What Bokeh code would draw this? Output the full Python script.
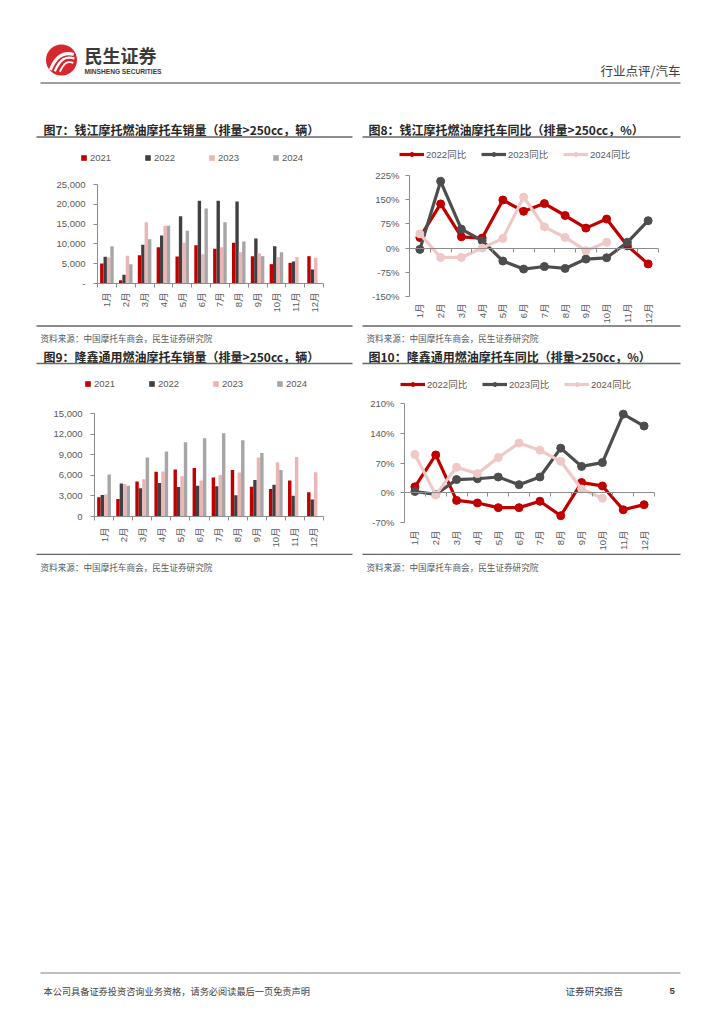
from math import pi
from bokeh.plotting import figure
from bokeh.layouts import column, row
from bokeh.models import (Range1d, FixedTicker, Legend, LegendItem, LinearAxis,
                          NumeralTickFormatter, PrintfTickFormatter, ColumnDataSource)
from bokeh.embed import file_html
from bokeh.resources import INLINE
from bokeh.core.properties import value
from bokeh.transform import dodge

# ---------------- data ----------------
months = [1, 2, 3, 4, 5, 6, 7, 8, 9, 10, 11, 12]
month_labels = ["1月", "2月", "3月", "4月", "5月", "6月", "7月", "8月", "9月", "10月", "11月", "12月"]

bar_years = ["2021", "2022", "2023", "2024"]
yoy_names = ["2022同比", "2023同比", "2024同比"]

# 钱江摩托 燃油摩托车销量（排量>250cc，辆）
qj_2021 = [5050, 840, 7150, 9170, 6820, 9680, 8750, 10270, 6900, 4880, 5220, 6900]
qj_2022 = [6730, 2190, 9760, 12120, 17000, 20880, 20880, 20700, 11360, 9430, 5560, 3540]
qj_2023 = [6570, 6990, 15490, 14560, 10270, 7410, 9170, 7910, 7660, 6650, 6650, 6480]
qj_2024 = [9430, 4880, 11200, 14560, 13300, 18940, 15490, 10600, 6900, 7910]

# 钱江摩托 同比（%）
qj_yoy_2022 = [33, 137, 35, 31, 149, 114, 138, 101, 62, 90, 7, -49]
qj_yoy_2023 = [-4, 207, 59, 23, -40, -65, -57, -63, -34, -30, 18, 85]
qj_yoy_2024 = [44, -29, -29, 0, 30, 158, 66, 33, -8, 18]

# 隆鑫通用 燃油摩托车销量（排量>250cc，辆）
lx_2021 = [2790, 2540, 5080, 6500, 6840, 7080, 5670, 6790, 4350, 4010, 5230, 3520]
lx_2022 = [3130, 4790, 4100, 4890, 4300, 4490, 4400, 3080, 5320, 4640, 3030, 2490]
lx_2023 = [3220, 4740, 5420, 6550, 5860, 5230, 6060, 6400, 8600, 7910, 8650, 6450]
lx_2024 = [6110, 4490, 8600, 9480, 10800, 11380, 12120, 11090, 9230, 6790]

# 隆鑫通用 同比（%）
lx_yoy_2022 = [14, 89, -18, -24, -35, -35, -20, -54, 24, 16, -40, -28]
lx_yoy_2023 = [3, -4, 31, 33, 37, 19, 37, 105, 62, 71, 185, 157]
lx_yoy_2024 = [90, -5, 60, 45, 83, 117, 100, 74, 9, -13]

qj_bar_ticks = [0, 5000, 10000, 15000, 20000, 25000]
lx_bar_ticks = [0, 3000, 6000, 9000, 12000, 15000]
qj_yoy_ticks = [-150, -75, 0, 75, 150, 225]
lx_yoy_ticks = [-70, 0, 70, 140, 210]

# ---------------- style ----------------
CJK = "Noto Sans CJK SC"
NUMF = "Liberation Sans, Noto Sans CJK SC"
BAR_COLORS = ["#C00000", "#404040", "#EBB5B5", "#A6A6A6"]
LINE_COLORS = ["#C00000", "#4D4D4D", "#EFC8C8"]
AXIS_C = "#8C8C8C"
LABEL_C = "#595959"
PAGE_W = 716
BOUNDS = [m - 0.5 for m in months] + [12.5]


def lin_range(lo_px, hi_px, px_a, val_a, px_b, val_b):
    """Data range covering pixels lo_px..hi_px given two reference (pixel, value) pairs."""
    f = lambda px: val_a + (px - px_a) * (val_b - val_a) / (px_b - px_a)
    return f(lo_px), f(hi_px)


def base_style(p):
    p.outline_line_color = None
    p.grid.visible = False
    p.background_fill_color = "white"
    p.border_fill_color = "white"


def make_fig(box, xref, yref):
    fx0, fy0, fx1, fy1 = box
    xs, xe = lin_range(fx0, fx1, xref[0], 0.5, xref[1], 12.5)
    yb, yt = lin_range(fy1, fy0, yref[0], yref[1], yref[2], yref[3])
    p = figure(width=fx1 - fx0, height=fy1 - fy0, x_range=Range1d(xs, xe),
               y_range=Range1d(yb, yt), min_border=0,
               output_backend="svg", toolbar_location=None)
    base_style(p)
    return p


def style_y(p, ticks, ystandoff):
    ax = p.yaxis[0]
    ax.fixed_location = 0.5
    ax.ticker = FixedTicker(ticks=ticks)
    ax.bounds = (ticks[0], ticks[-1])
    ax.axis_line_color = AXIS_C
    ax.major_tick_line_color = AXIS_C
    ax.major_tick_out = 4
    ax.major_tick_in = 0
    ax.minor_tick_line_color = None
    ax.major_label_text_font = NUMF
    ax.major_label_text_font_size = "9.5px"
    ax.major_label_text_color = LABEL_C
    ax.major_label_standoff = ystandoff


def style_x_labels(ax, loc, xstandoff):
    ax.fixed_location = loc
    ax.ticker = FixedTicker(ticks=months, minor_ticks=BOUNDS)
    ax.bounds = (0.5, 12.5)
    ax.major_label_overrides = {m: lab for m, lab in zip(months, month_labels)}
    ax.major_label_orientation = pi / 2
    ax.major_label_text_font = NUMF
    ax.major_label_text_font_size = "9.5px"
    ax.major_label_text_color = LABEL_C
    ax.major_label_standoff = xstandoff
    ax.major_tick_line_color = None
    ax.major_tick_out = 0
    ax.major_tick_in = 0


def add_legend(p, box, items, legend_box, glyph_w, glyph_h, label_w, standoff):
    fx0, fy0, fx1, fy1 = box
    lx, lcy = legend_box
    lh = 11
    leg = Legend(items=items, location=(lx - fx0, fy1 - (lcy + lh / 2)),
                 orientation="horizontal", padding=0, margin=0, spacing=0,
                 glyph_width=glyph_w, glyph_height=glyph_h, label_height=lh,
                 label_width=label_w, label_standoff=standoff,
                 border_line_color=None, background_fill_alpha=0,
                 label_text_font=NUMF, label_text_font_size="9.5px",
                 label_text_color=LABEL_C)
    p.add_layout(leg)


def bar_chart(box, xref, yref, ticks, series, zero_label, legend_box, xstandoff, ystandoff):
    p = make_fig(box, xref, yref)
    offsets = [-0.27, -0.09, 0.09, 0.27]
    items = []
    for vals, color, name, off in zip(series, BAR_COLORS, bar_years, offsets):
        src = ColumnDataSource(dict(x=months[:len(vals)], v=vals))
        r = p.vbar(x=dodge("x", off), top="v", bottom=0, width=0.18, source=src,
                   fill_color=color, line_color=None)
        items.append(LegendItem(label=name, renderers=[r]))
    style_y(p, ticks, ystandoff)
    p.yaxis.formatter = NumeralTickFormatter(format="0,0")
    if zero_label is not None:
        p.yaxis.major_label_overrides = {0: zero_label}
    ax = p.xaxis[0]
    style_x_labels(ax, 0, xstandoff)
    ax.axis_line_color = AXIS_C
    ax.minor_tick_line_color = AXIS_C
    ax.minor_tick_out = 4
    ax.minor_tick_in = 0
    add_legend(p, box, items, legend_box, 7, 7, 54, 3)
    return p


def line_chart(box, xref, yref, ticks, series, legend_box, xstandoff, ystandoff):
    p = make_fig(box, xref, yref)
    items = []
    for vals, color, name in zip(series, LINE_COLORS, yoy_names):
        src = ColumnDataSource(dict(x=months[:len(vals)], v=vals))
        rl = p.line(x="x", y="v", source=src, line_color=color, line_width=3.2)
        rs = p.scatter(x="x", y="v", source=src, size=8, fill_color=color, line_color=color)
        items.append(LegendItem(label=name, renderers=[rl, rs]))
    style_y(p, ticks, ystandoff)
    p.yaxis.formatter = PrintfTickFormatter(format="%d%%")
    ax = p.xaxis[0]
    style_x_labels(ax, ticks[0], xstandoff)
    ax.axis_line_color = None
    ax.minor_tick_line_color = None
    ax.minor_tick_out = 0
    # horizontal category axis line crossing at 0 %
    zero_ax = LinearAxis(fixed_location=0, ticker=FixedTicker(ticks=[], minor_ticks=BOUNDS),
                         bounds=(0.5, 12.5), axis_line_color=AXIS_C,
                         major_tick_line_color=None, minor_tick_line_color=AXIS_C,
                         minor_tick_out=4, minor_tick_in=0)
    p.add_layout(zero_ax, "below")
    add_legend(p, box, items, legend_box, 25, 10, 55, 2)
    return p


def text_fig(h):
    p = figure(width=PAGE_W, height=h, x_range=Range1d(0, PAGE_W), y_range=Range1d(h, 0),
               x_axis_location=None, y_axis_location=None, min_border=0,
               output_backend="svg", toolbar_location=None)
    base_style(p)
    return p


def put_text(p, x, y, s, size, color="#333333", bold=False, align="left", font=CJK):
    p.text(x=[x], y=[y], text=[s], text_font=value(font), text_font_size=size,
           text_color=color, text_font_style="bold" if bold else "normal",
           text_align=align, text_baseline="middle")


def rule(p, x0, x1, y, color, w):
    p.line(x=[x0, x1], y=[y, y], line_color=color, line_width=w)


TITLE_C = "#262626"
SRC_C = "#595959"
RULE_C = "#666666"
TITLE_SIZE = "12px"
SRC_SIZE = "8.6px"

# ---------------- header (page y 0..140) ----------------
hdr = text_fig(140)
cx, cy, k = 61, 59.5, 1.12
hdr.circle(x=[cx], y=[cy], radius=15.5, fill_color="#D7282E", line_color=None)
hdr.bezier(x0=[cx - 10 * k, cx - 6 * k, cx - 1.5 * k], y0=[cy + 9 * k, cy + 10 * k, cy + 10.5 * k],
           x1=[cx + 11 * k, cx + 11.5 * k, cx + 10.5 * k], y1=[cy - 5 * k, cy - 1.5 * k, cy + 2.5 * k],
           cx0=[cx - 5 * k, cx - 1 * k, cx + 2.5 * k], cy0=[cy - 4 * k, cy - 1 * k, cy + 2.5 * k],
           cx1=[cx + 2 * k, cx + 3.5 * k, cx + 5 * k], cy1=[cy - 7.5 * k, cy - 3.5 * k, cy + 0.5 * k],
           line_color="white", line_width=[3.0, 2.4, 1.8])
put_text(hdr, 84, 54.5, "民生证券", "18px", "#3A3A3A", bold=True)
put_text(hdr, 84, 70.5, "MINSHENG SECURITIES", "6.6px", "#3A3A3A", bold=True,
         font="Liberation Sans")
put_text(hdr, 680, 70, "行业点评/汽车", "12.5px", "#404040", align="right")
rule(hdr, 40, 680, 82.5, "#7F7F7F", 1.5)
put_text(hdr, 43, 128.5, "图7：钱江摩托燃油摩托车销量（排量>250cc，辆）", TITLE_SIZE, TITLE_C, bold=True)
put_text(hdr, 368, 128.5, "图8：钱江摩托燃油摩托车同比（排量>250cc，%）", TITLE_SIZE, TITLE_C, bold=True)
rule(hdr, 36, 352, 136.5, RULE_C, 1.5)
rule(hdr, 362, 680, 136.5, RULE_C, 1.5)

# ---------------- row 1 (page y 140..324) ----------------
c7 = bar_chart((0, 140, 354, 324), (97, 323), (283, 0, 184, 25000), qj_bar_ticks,
               [qj_2021, qj_2022, qj_2023, qj_2024], "-", (80, 157), 5, 8)
c8 = line_chart((354, 140, 716, 324), (409, 658), (296, -150, 175, 225), qj_yoy_ticks,
                [qj_yoy_2022, qj_yoy_2023, qj_yoy_2024], (399, 155), 7, 6)

# ---------------- band (page y 324..372) ----------------
oy = 324
band = text_fig(48)
rule(band, 36, 352, 325.6 - oy, RULE_C, 1.5)
rule(band, 362, 680, 325.6 - oy, RULE_C, 1.5)
put_text(band, 40, 337 - oy, "资料来源：中国摩托车商会，民生证券研究院", SRC_SIZE, SRC_C)
put_text(band, 366, 337 - oy, "资料来源：中国摩托车商会，民生证券研究院", SRC_SIZE, SRC_C)
put_text(band, 43, 355.5 - oy, "图9：隆鑫通用燃油摩托车销量（排量>250cc，辆）", TITLE_SIZE, TITLE_C, bold=True)
put_text(band, 368, 355.5 - oy, "图10：隆鑫通用燃油摩托车同比（排量>250cc，%）", TITLE_SIZE, TITLE_C, bold=True)
rule(band, 36, 352, 363 - oy, RULE_C, 1.5)
rule(band, 362, 680, 363 - oy, RULE_C, 1.5)

# ---------------- row 2 (page y 372..553) ----------------
c9 = bar_chart((0, 372, 354, 553), (94, 323), (516, 0, 413, 15000), lx_bar_ticks,
               [lx_2021, lx_2022, lx_2023, lx_2024], None, (84, 383), 7, 8)
c10 = line_chart((354, 372, 716, 553), (404, 654), (522, -70, 403, 210), lx_yoy_ticks,
                 [lx_yoy_2022, lx_yoy_2023, lx_yoy_2024], (400, 385), 8, 6)

# ---------------- bottom (page y 553..1016) ----------------
oy = 553
bot = text_fig(463)
rule(bot, 36, 352, 553.8 - oy, RULE_C, 1.5)
rule(bot, 362, 680, 553.8 - oy, RULE_C, 1.5)
put_text(bot, 40, 566.5 - oy, "资料来源：中国摩托车商会，民生证券研究院", SRC_SIZE, SRC_C)
put_text(bot, 366, 566.5 - oy, "资料来源：中国摩托车商会，民生证券研究院", SRC_SIZE, SRC_C)
rule(bot, 40, 680, 972.5 - oy, "#7F7F7F", 1)
put_text(bot, 43, 990 - oy, "本公司具备证券投资咨询业务资格，请务必阅读最后一页免责声明", "9.2px", "#404040")
put_text(bot, 565, 990 - oy, "证券研究报告", "9.6px", "#404040")
put_text(bot, 669, 990 - oy, "5", "9.6px", "#404040", bold=True, font="Liberation Sans")

page = column(hdr, row(c7, c8), band, row(c9, c10), bot)
open("out.html", "w").write(file_html(page, INLINE))
